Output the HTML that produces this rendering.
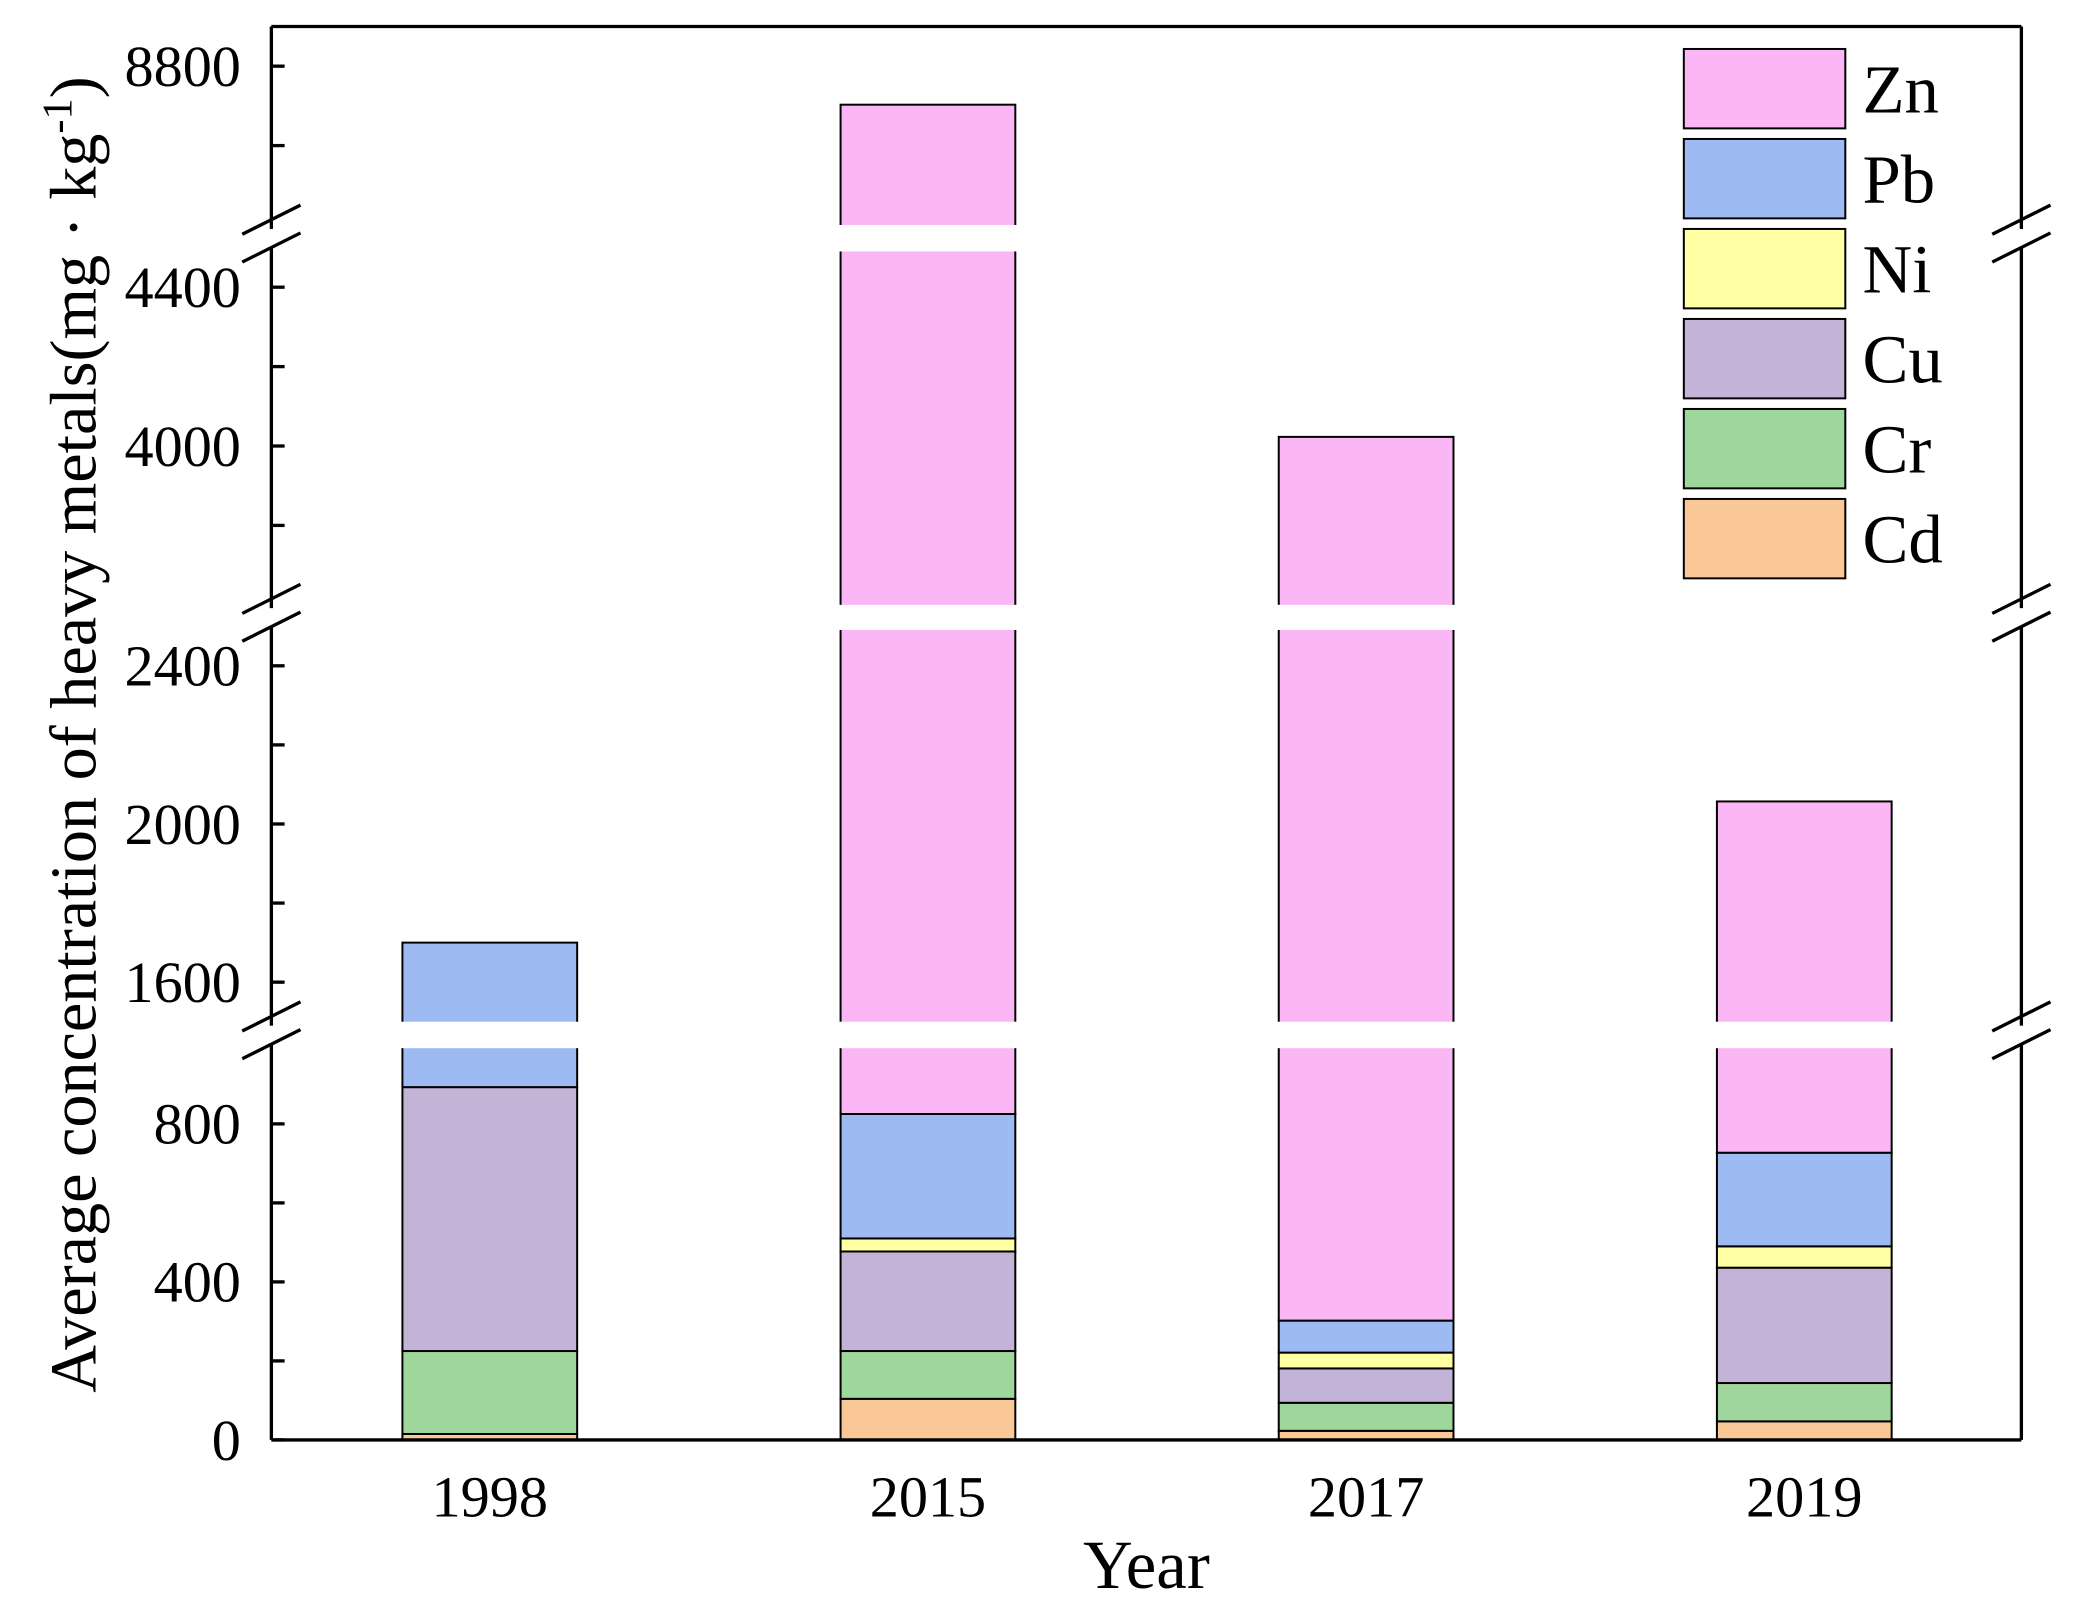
<!DOCTYPE html>
<html><head><meta charset="utf-8"><style>
html,body{margin:0;padding:0;background:#fff;}
svg{display:block;}
text{font-family:"Liberation Serif",serif;fill:#000;}
</style></head><body>
<svg id="chart" width="2073" height="1608" viewBox="0 0 1566 1215" preserveAspectRatio="none" xmlns="http://www.w3.org/2000/svg">
<g id="bars"></g>
<g id="axes"></g>
<g id="legend"></g>
</svg>
<script>
const categories = ["1998","2015","2017","2019"];
const metals = ["Cd","Cr","Cu","Ni","Pb","Zn"];
const cd = [15,104,23,47];
const cr = [210,121,71,97];
const cu = [668,252,87,292];
const ni = [0,33,40,54];
const pb = [807,315,81,237];
const zn = [0,7878,3721,1330];
const majorTicks = [0,400,800,1600,2000,2400,4000,4400,8800];
const minorTicks = [200,600,1800,2200,3800,4200,8600];
const colors = {Zn:"#FBB6F5",Pb:"#9DBBF2",Ni:"#FFFFA3",Cu:"#C3B3D6",Cr:"#9ED69C",Cd:"#FAC896"};
const NS="http://www.w3.org/2000/svg";
const segs=[[0,992,1088,0.2985],[1500,2490,772,0.2988],[3600,4490,457,0.3],[8400,8900,170,0.3]];
const gaps=[[772,792],[457,476],[170,190]];
function y(v){
  for(let i=0;i<segs.length;i++){const s=segs[i];if(v<=s[1]||i==segs.length-1)return s[2]-(Math.max(v,s[0])-s[0])*s[3];}
}
const L=205,R=1527,T=20,B=1088;
function x(i){return 370+i*331;}
const bw=132;
function mk(tag,attrs,parent){const e=document.createElementNS(NS,tag);for(const k in attrs)e.setAttribute(k,attrs[k]);parent.appendChild(e);return e;}
const barsG=document.getElementById('bars'),axG=document.getElementById('axes'),lgG=document.getElementById('legend');
const series={Cd:cd,Cr:cr,Cu:cu,Ni:ni,Pb:pb,Zn:zn};
categories.forEach((c,i)=>{
  let base=0;
  metals.forEach(m=>{
    const v=series[m][i];if(v<=0)return;
    const y0=y(base),y1=y(base+v);
    const r=mk('rect',{x:x(i)-bw/2,y:y1,width:bw,height:y0-y1,fill:colors[m],stroke:'#000','stroke-width':1.5},barsG);
    
    
    base+=v;
  });
  const t=mk('text',{x:x(i),y:1146,'font-size':44,'text-anchor':'middle'},axG);t.textContent=c;
  
  
});
gaps.forEach(g=>{mk('rect',{x:L+3,y:g[0],width:R-L-6,height:g[1]-g[0],fill:'#fff'},barsG);});
mk('line',{x1:L,y1:T,x2:R,y2:T,stroke:'#000','stroke-width':2.5},axG);
mk('line',{x1:L,y1:B,x2:R,y2:B,stroke:'#000','stroke-width':2.5},axG);
mk('line',{x1:L,y1:T,x2:L,y2:B,stroke:'#000','stroke-width':2.5},axG);
mk('line',{x1:R,y1:T,x2:R,y2:B,stroke:'#000','stroke-width':2.5},axG);
gaps.forEach(g=>{
  const cy=(g[0]+g[1])/2;
  [L,R].forEach(ax=>{
    mk('rect',{x:ax-6,y:cy-7,width:12,height:14,fill:'#fff'},axG);
    mk('line',{x1:ax-22,y1:cy-3,x2:ax+22,y2:cy-25,stroke:'#000','stroke-width':2.5},axG);
    mk('line',{x1:ax-22,y1:cy+18,x2:ax+22,y2:cy-4,stroke:'#000','stroke-width':2.5},axG);
  });
});
majorTicks.concat(minorTicks).forEach(v=>{mk('line',{x1:L,y1:y(v),x2:L+10,y2:y(v),stroke:'#000','stroke-width':2.5},axG);});
majorTicks.forEach(v=>{
  const t=mk('text',{x:182,y:y(v)+15,'font-size':44,'text-anchor':'end'},axG);t.textContent=v;
  
  
});
const yt=mk('text',{x:0,y:0,'font-size':50,'text-anchor':'middle',transform:'translate(72,555) rotate(-90)'},axG);
yt.innerHTML='Average concentration of heavy metals(mg · kg<tspan font-size="32" dy="-18">-1</tspan><tspan dy="18">)</tspan>';


const xt=mk('text',{x:866,y:1200,'font-size':52,'text-anchor':'middle'},axG);xt.textContent='Year';


["Zn","Pb","Ni","Cu","Cr","Cd"].forEach((m,k)=>{
  const yy=37+k*68;
  const r=mk('rect',{x:1272,y:yy,width:122,height:60,fill:colors[m],stroke:'#000','stroke-width':1.5},lgG);
  
  
  const t=mk('text',{x:1407,y:yy+48,'font-size':52},lgG);t.textContent=m;
  
  
});
</script>
</body></html>
